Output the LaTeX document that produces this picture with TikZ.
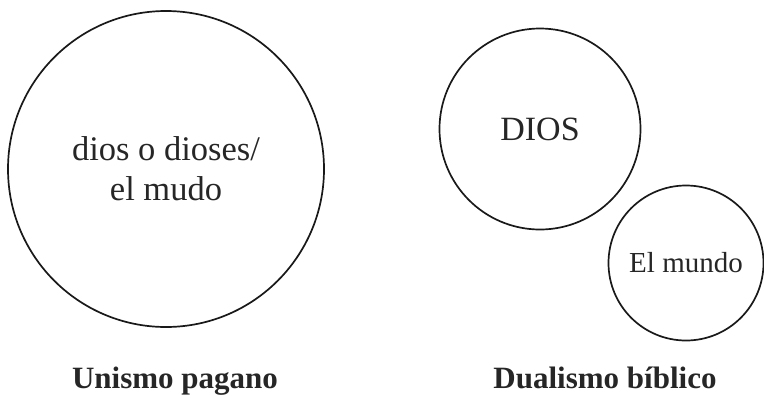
\documentclass[tikz,border=0pt]{standalone}
\usepackage{fontspec}
\setmainfont{Liberation Serif}
\begin{document}
\begin{tikzpicture}[x=1bp,y=-1bp,
  ring/.style={draw=black!90,line width=1.7bp,circle,inner sep=0pt,align=center,text=black!85},
  caption/.style={anchor=base,font=\bfseries\fontsize{31bp}{36bp}\selectfont,text=black!85}]
\useasboundingbox (0,0) rectangle (764,397);
\node[ring,minimum size=316bp,font=\fontsize{34.5bp}{40bp}\selectfont] (uni) at (166,169) {dios o dioses/\\el mudo};
\node[ring,minimum size=201bp,font=\fontsize{34bp}{40bp}\selectfont] (dios) at (540,129) {DIOS};
\node[ring,minimum size=155bp,font=\fontsize{29bp}{34bp}\selectfont] (mundo) at (686,263) {El mundo};
\node[caption] (lab1) at (175,388) {Unismo pagano};
\node[caption] (lab2) at (605,388) {Dualismo bíblico};
\end{tikzpicture}
\end{document}
